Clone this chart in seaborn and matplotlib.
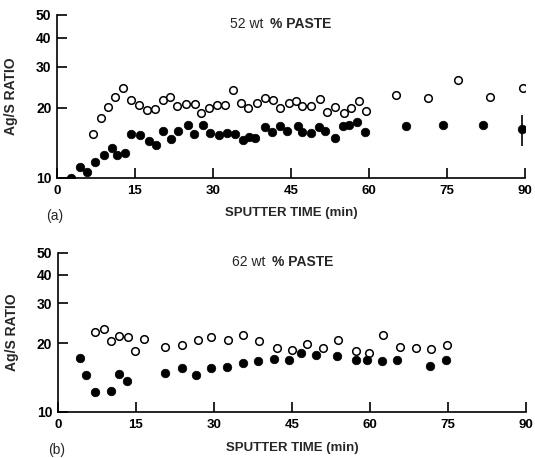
import matplotlib
matplotlib.use("Agg")
import matplotlib.pyplot as plt
import seaborn as sns
from matplotlib.ticker import FixedLocator, NullLocator, FixedFormatter

# (a) 52 wt % paste
t52_open = [7.0, 8.4, 9.75, 11.2, 12.75, 14.3, 15.8, 17.25, 18.9, 20.3, 21.8, 23.1, 24.8, 26.5,
            27.7, 29.3, 30.8, 32.3, 33.9, 35.3, 36.8, 38.4, 40.0, 41.5, 42.9, 44.7, 46.0, 47.1,
            48.8, 50.6, 51.9, 53.5, 55.1, 56.5, 58.0, 59.4, 65.2, 71.3, 77.1, 83.3, 89.5]
r52_open = [15.5, 18.0, 20.1, 22.3, 24.2, 21.6, 20.5, 19.5, 19.7, 21.5, 22.2, 20.4, 20.8, 20.8,
            19.0, 19.9, 20.5, 20.5, 23.8, 20.9, 19.9, 20.9, 22.1, 21.6, 20.0, 20.9, 21.4, 20.3,
            20.4, 21.8, 19.1, 20.1, 18.9, 19.9, 21.4, 19.4, 22.6, 22.0, 26.3, 22.2, 24.4]
t52_fill = [2.6, 4.4, 5.8, 7.4, 9.0, 10.5, 11.5, 13.1, 14.3, 16.0, 17.6, 19.0, 20.3, 21.9,
            23.3, 25.1, 26.3, 28.1, 29.4, 31.1, 32.6, 34.3, 35.7, 36.9, 38.1, 40.0, 41.3, 42.8,
            44.3, 46.4, 47.2, 48.8, 50.4, 51.5, 53.4, 55.0, 56.2, 57.6, 59.2, 67.1, 74.2, 81.9, 89.4]
r52_fill = [10.0, 11.1, 10.6, 11.7, 12.6, 13.5, 12.5, 12.8, 15.5, 15.3, 14.4, 13.8, 15.9, 14.7,
            15.9, 16.9, 15.5, 16.9, 15.6, 15.3, 15.6, 15.5, 14.5, 15.0, 14.8, 16.6, 15.8, 16.7,
            15.9, 16.7, 15.8, 15.6, 16.6, 15.9, 14.9, 16.7, 16.8, 17.3, 15.7, 16.7, 16.8, 16.8, 16.2]
err_t = [89.4]
err_lo = [13.7]
err_hi = [18.7]

# (b) 62 wt % paste
t62_open = [7.2, 8.9, 10.3, 11.8, 13.5, 14.9, 16.5, 20.6, 23.9, 26.9, 29.4, 32.7, 35.6, 38.7,
            42.1, 45.0, 47.9, 51.0, 53.8, 57.4, 59.9, 62.6, 65.8, 68.8, 71.7, 74.8]
r62_open = [22.5, 23.2, 20.5, 21.5, 21.3, 18.5, 20.8, 19.3, 19.6, 20.6, 21.4, 20.7, 21.8, 20.5,
            19.1, 18.7, 19.8, 19.0, 20.6, 18.5, 18.2, 21.8, 19.2, 19.1, 18.9, 19.7]
t62_fill = [4.3, 5.5, 7.2, 10.3, 11.7, 13.4, 20.6, 23.9, 26.5, 29.5, 32.5, 35.6, 38.5, 41.6,
            44.4, 46.8, 49.7, 53.7, 57.4, 59.5, 62.4, 65.3, 71.6, 74.7]
r62_fill = [17.3, 14.5, 12.2, 12.4, 14.6, 13.6, 14.8, 15.5, 14.5, 15.6, 15.8, 16.4, 16.7, 17.1,
            16.9, 18.1, 17.8, 17.5, 16.9, 16.9, 16.8, 16.9, 15.9, 16.9]

x_ticks = [0, 15, 30, 45, 60, 75, 90]
y_ticks = [10, 20, 30, 40, 50]
y_labels = ["10", "20", "30", "40", "50"]

sns.set_style("ticks")
plt.rcParams["font.family"] = ["Liberation Sans", "DejaVu Sans"]
plt.rcParams["font.weight"] = "bold"

fig = plt.figure(figsize=(5.35, 4.58), dpi=100)
ax1 = fig.add_axes([0.1065, 0.6114, 0.875, 0.356])
ax2 = fig.add_axes([0.108, 0.101, 0.875, 0.347])


def style_axis(ax):
    ax.set_xlim(0, 90)
    ax.set_yscale("log")
    ax.set_ylim(10, 50)
    ax.xaxis.set_major_locator(FixedLocator(x_ticks))
    ax.yaxis.set_major_locator(FixedLocator(y_ticks))
    ax.yaxis.set_major_formatter(FixedFormatter(y_labels))
    ax.yaxis.set_minor_locator(NullLocator())
    ax.xaxis.set_minor_locator(NullLocator())
    sns.despine(ax=ax)
    for s in ["left", "bottom"]:
        ax.spines[s].set_linewidth(1.2)
        ax.spines[s].set_color("black")
    ax.tick_params(axis="x", direction="in", length=7, width=1.2, pad=5,
                   labelsize=9.5, colors="black")
    ax.tick_params(axis="y", direction="in", length=7, width=1.2, pad=4,
                   labelsize=10, colors="black")
    for lab in ax.get_xticklabels() + ax.get_yticklabels():
        lab.set_fontweight("bold")
    ax.set_ylabel("Ag/S RATIO", fontsize=10, fontweight="bold")
    ax.yaxis.set_label_coords(-0.083, 0.5)
    ax.set_xlabel("SPUTTER TIME (min)", fontsize=9.5, fontweight="bold")


def draw(ax, to, ro, tf, rf):
    sns.scatterplot(x=to, y=ro, ax=ax, s=30, marker="o", facecolor="white",
                    edgecolor="black", linewidth=1.1, zorder=3)
    sns.scatterplot(x=tf, y=rf, ax=ax, s=38, marker="o", color="black",
                    edgecolor="black", linewidth=0.5, zorder=3)


draw(ax1, t52_open, r52_open, t52_fill, r52_fill)
ax1.vlines(err_t, err_lo, err_hi, color="black", linewidth=1.2, zorder=2)
draw(ax2, t62_open, r62_open, t62_fill, r62_fill)

style_axis(ax1)
style_axis(ax2)
ax1.xaxis.set_label_coords(0.5, -0.18)
ax2.xaxis.set_label_coords(0.5, -0.19)

ax1.text(0.37, 0.945, "52 wt", transform=ax1.transAxes, fontsize=10,
         fontweight="normal", va="center", ha="left")
ax1.text(0.455, 0.945, "% PASTE", transform=ax1.transAxes, fontsize=10,
         fontweight="bold", va="center", ha="left")
ax2.text(0.372, 0.943, "62 wt", transform=ax2.transAxes, fontsize=10,
         fontweight="normal", va="center", ha="left")
ax2.text(0.457, 0.943, "% PASTE", transform=ax2.transAxes, fontsize=10,
         fontweight="bold", va="center", ha="left")

fig.text(55 / 535, 1 - 216 / 458, "(a)", fontsize=10, fontweight="normal",
         ha="center", va="center")
fig.text(57 / 535, 1 - 450 / 458, "(b)", fontsize=10, fontweight="normal",
         ha="center", va="center")

fig.savefig("out.png", dpi=100)
